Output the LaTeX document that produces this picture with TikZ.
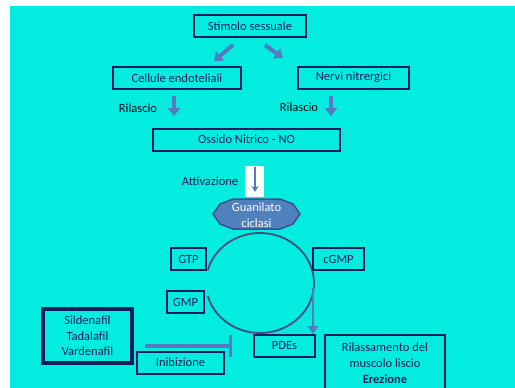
\documentclass[tikz,border=0pt]{standalone}
\usepackage{fontspec}
\setmainfont{Carlito}
\usepackage{xcolor}
\usetikzlibrary{arrows.meta,calc}
\definecolor{bgcyan}{RGB}{3,236,224}
\definecolor{navy}{RGB}{14,30,90}
\definecolor{arrblue}{RGB}{85,122,192}
\definecolor{gcfill}{RGB}{79,129,189}
\definecolor{gcline}{RGB}{52,82,140}
\definecolor{ringcol}{RGB}{62,78,125}
\tikzstyle{box}=[draw=navy, line width=2pt, fill=bgcyan, text=navy, inner sep=0pt, align=center]
\tikzstyle{fat}=[arrblue, line width=4pt, -{Triangle[length=8pt,width=12pt]}]
\tikzstyle{lbl}=[inner sep=0pt, text=black!80!navy]

\begin{document}
\begin{tikzpicture}[x=1pt, y=-1pt, font=\fontsize{12.5}{16}\selectfont]
\fill[bgcyan] (10,6) rectangle (515,388);
\useasboundingbox (0,0) rectangle (515,388);
% ring GTP -> cGMP -> GMP
\draw[ringcol, line width=1.8pt] (260,283) ++(-165:54 and 50) arc[start angle=-165, end angle=165, x radius=54, y radius=50];
\foreach \n/\x/\y/\w/\t in {stim/250/26/112/Stimolo sessuale, cell/177/78/128/Cellule endoteliali,
  nerv/353.5/77.5/111/Nervi nitrergici, ossido/246.5/139.5/187/Ossido Nitrico - NO,
  gtp/188.5/259/35/GTP, cgmp/338.5/259/51/cGMP, gmp/185.5/302/37/GMP,
  pdes/284.5/346/61/PDEs, inib/180.5/362.5/87/Inibizione} {
 \node[box, minimum width=\w pt, minimum height=22pt] (\n) at (\x,\y) {\t};
}
\node[box, line width=3.5pt, minimum width=89pt, minimum height=54pt, font=\fontsize{12.5}{15.5}\selectfont] (sild) at (87.5,336) {Sildenafil\\Tadalafil\\Vardenafil};
\node[box, minimum width=120pt, minimum height=56pt] (rilass) at (385,363) {Rilassamento del\\muscolo liscio\\\textbf{Erezione}};
% block arrows
\foreach \n/\xa/\ya/\xb/\yb in {1/233/45/214/61, 2/265/45/283/58, 3/174/96/174/116, 4/331/96/331/116} {
 \coordinate (s\n) at (\xa,\ya);
 \coordinate (e\n) at (\xb,\yb);
 \draw[fat] (s\n) -- (e\n);
}
\node[lbl] (ril1) at (138,108) {Rilascio};
\node[lbl] (ril2) at (299,107) {Rilascio};
% activation
\node[inner sep=0pt, text=navy] (att) at (210,181) {Attivazione};
\fill[white] (245,166) rectangle (264,197);
\coordinate (a1) at (255,167);
\coordinate (a2) at (255,192);
\draw[arrblue, line width=1.2pt, -{Stealth[length=6pt,width=7pt]}] (a1) -- (a2);
\filldraw[fill=gcfill, draw=gcline, line width=1.5pt] (213,214) -- (220,204) -- (233,199) -- (280,199) -- (293,204) -- (300,214) -- (293,224) -- (280,229) -- (233,229) -- (220,224) -- cycle;
\node[inner sep=0pt, text=white, align=center] (gc) at (256.5,215) {Guanilato\\ciclasi};
% cGMP -> PDEs
\coordinate (r1) at (313,288);
\draw[arrblue, line width=2.5pt, -{Triangle[length=8pt,width=10pt]}] (r1) -- (r1 |- pdes.north);
% inhibition
\coordinate (i1) at (145,346);
\coordinate (i2) at (232,346);
\draw[arrblue, line width=3.5pt, -{Bar[width=22pt]}] (i1) -- (i2);
\end{tikzpicture}
\end{document}
